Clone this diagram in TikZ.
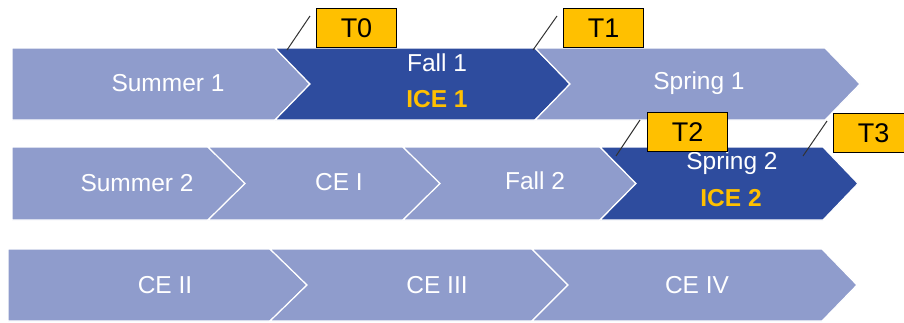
\documentclass[tikz,border=0pt]{standalone}
\usepackage{fontspec}
\setmainfont{Liberation Sans}
\definecolor{lightc}{RGB}{143,156,204}
\definecolor{darkc}{RGB}{46,76,158}
\definecolor{gold}{RGB}{255,192,0}
\tikzset{
  chev/.style={fill=lightc, draw=white, line width=1.2pt, line join=miter},
  chevdark/.style={fill=darkc, draw=white, line width=1.2pt, line join=miter},
  lbl/.style={text=white, font=\fontsize{24.5}{26}\selectfont, inner sep=0pt},
  icelbl/.style={text=gold, font=\fontsize{24.5}{26}\selectfont\bfseries, inner sep=0pt},
  tag/.style={fill=gold, draw=black, line width=1pt, minimum width=80pt, minimum height=39pt, inner sep=0pt, font=\fontsize{27}{29}\selectfont, anchor=north west},
  slash/.style={draw=black!80, line width=1pt}
}
\begin{document}
\begin{tikzpicture}[x=1pt,y=-1pt]
\useasboundingbox (0,0) rectangle (904,322);
\clip (0,0) rectangle (904,322);
% Row 1
\draw[chev] (12,48) -- (275,48) -- (310,84) -- (275,120) -- (12,120) -- cycle;
\draw[chevdark] (275,48) -- (535,48) -- (570,84) -- (535,120) -- (275,120) -- (310,84) -- cycle;
\draw[chev] (535,48) -- (825,48) -- (860,84) -- (825,120) -- (535,120) -- (570,84) -- cycle;
\node[lbl] (summer1) at (168,83) {Summer 1};
\node[lbl] (fall1) at (437,63) {Fall 1};
\node[icelbl] (ice1) at (437,99) {ICE 1};
\node[lbl] (spring1) at (699,83) {Spring 1};
% Row 2
\draw[chev] (12,147) -- (208,147) -- (245,183.5) -- (208,220) -- (12,220) -- cycle;
\draw[chev] (208,147) -- (403,147) -- (440,183.5) -- (403,220) -- (208,220) -- (245,183.5) -- cycle;
\draw[chev] (403,147) -- (600,147) -- (636,183.5) -- (600,220) -- (403,220) -- (440,183.5) -- cycle;
\draw[chevdark] (600,147) -- (823,147) -- (858,183.5) -- (823,220) -- (600,220) -- (636,183.5) -- cycle;
\node[lbl] (summer2) at (137,183) {Summer 2};
\node[lbl] (ce1) at (339,182) {CE I};
\node[lbl] (fall2) at (535,181) {Fall 2};
\node[lbl] (spring2) at (732,163) {Spring 2};
\node[icelbl] (ice2) at (731,198) {ICE 2};
% Row 3
\draw[chev] (8,249) -- (270,249) -- (307,285) -- (270,321) -- (8,321) -- cycle;
\draw[chev] (270,249) -- (532,249) -- (568,285) -- (532,321) -- (270,321) -- (307,285) -- cycle;
\draw[chev] (532,249) -- (822,249) -- (857,285) -- (822,321) -- (532,321) -- (568,285) -- cycle;
\node[lbl] (ce2) at (165,285) {CE II};
\node[lbl] (ce3) at (437,285) {CE III};
\node[lbl] (ce4) at (697,285) {CE IV};
% Tags
\node[tag] (t0) at (316,8) {T0};
\node[tag] (t1) at (563,8) {T1};
\node[tag] (t2) at (647,112) {T2};
\node[tag] (t3) at (833,113) {T3};
\coordinate (s0a) at (287,50); \coordinate (s0b) at (310,16);
\coordinate (s1a) at (533,50); \coordinate (s1b) at (557,16);
\coordinate (s2a) at (616,156); \coordinate (s2b) at (640,120);
\coordinate (s3a) at (803,156); \coordinate (s3b) at (827,121);
\draw[slash] (s0a) -- (s0b);
\draw[slash] (s1a) -- (s1b);
\draw[slash] (s2a) -- (s2b);
\draw[slash] (s3a) -- (s3b);
\end{tikzpicture}
\end{document}
